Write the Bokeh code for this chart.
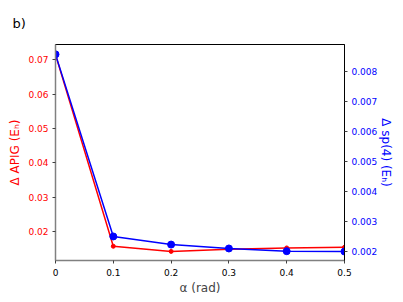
from bokeh.plotting import figure
from bokeh.models import Range1d, LinearAxis, FixedTicker, Title, Spacer
from bokeh.layouts import row
from bokeh.embed import file_html
from bokeh.resources import INLINE

alpha = [0.0, 0.1, 0.2, 0.3, 0.4, 0.5]
apig = [0.0715, 0.0157, 0.0142, 0.0148, 0.0152, 0.0154]
sp4 = [0.00856, 0.00250, 0.00223, 0.00210, 0.00201, 0.00200]
x_ticks = [0.0, 0.1, 0.2, 0.3, 0.4, 0.5]
left_ticks = [0.02, 0.03, 0.04, 0.05, 0.06, 0.07]
right_ticks = [0.002, 0.003, 0.004, 0.005, 0.006, 0.007, 0.008]

RED = "#ff0000"
BLUE = "#0000ff"
FONT = "DejaVu Sans"
TICK_FS = "9px"

p = figure(frame_width=289, frame_height=216, output_backend="svg", toolbar_location=None,
           x_range=Range1d(0.0, 0.5), y_range=Range1d(0.01155, 0.07446),
           min_border_left=0, min_border_right=0, min_border_top=44, min_border_bottom=30)
p.extra_y_ranges = {"right": Range1d(0.0017, 0.008888)}
p.grid.visible = False
p.outline_line_color = "black"
p.outline_line_width = 1
p.background_fill_color = "white"
p.border_fill_color = "white"

# bottom axis
xa = p.xaxis[0]
xa.ticker = FixedTicker(ticks=x_ticks)
xa.minor_tick_line_color = None
xa.axis_line_color = "#808080"
xa.axis_line_width = 1.5
xa.major_tick_line_color = "#404040"
xa.major_tick_out = 3
xa.major_tick_in = 0
xa.major_label_standoff = 5
xa.major_label_text_font = FONT
xa.major_label_text_font_size = TICK_FS
xa.major_label_text_color = "black"
xa.axis_label = "α (rad)"
xa.axis_label_text_font = FONT
xa.axis_label_text_font_style = "normal"
xa.axis_label_text_font_size = "12px"
xa.axis_label_standoff = 2

# left axis
ya = p.yaxis[0]
ya.ticker = FixedTicker(ticks=left_ticks)
ya.minor_tick_line_color = None
ya.axis_line_color = "#808080"
ya.axis_line_width = 1.5
ya.major_tick_line_color = "#404040"
ya.major_tick_out = 3
ya.major_tick_in = 0
ya.major_label_standoff = 4
ya.major_label_text_font = FONT
ya.major_label_text_font_size = TICK_FS
ya.major_label_text_color = RED
ya.axis_label = "Δ APIG (Eₕ)"
ya.axis_label_text_font = FONT
ya.axis_label_text_font_style = "normal"
ya.axis_label_text_font_size = "12px"
ya.axis_label_text_color = RED
ya.axis_label_standoff = 3

# right axis
ra = LinearAxis(y_range_name="right", ticker=FixedTicker(ticks=right_ticks))
ra.minor_tick_line_color = None
ra.axis_line_color = "black"
ra.axis_line_width = 1
ra.major_tick_line_color = "#404040"
ra.major_tick_out = 3
ra.major_tick_in = 0
ra.major_label_standoff = 4
ra.major_label_text_font = FONT
ra.major_label_text_font_size = TICK_FS
ra.major_label_text_color = BLUE
ra.axis_label = "Δ sp(4) (Eₕ)"
ra.axis_label_text_font = FONT
ra.axis_label_text_font_style = "normal"
ra.axis_label_text_font_size = "12px"
ra.axis_label_text_color = BLUE
ra.axis_label_standoff = -1
p.add_layout(ra, "right")

p.line(alpha, apig, line_color=RED, line_width=1.5)
p.scatter(alpha, apig, size=4, color=RED)
p.line(alpha, sp4, line_color=BLUE, line_width=1.5, y_range_name="right")
p.scatter(alpha, sp4, size=7, color=BLUE, y_range_name="right")

p.add_layout(Title(text="b)", align="left", offset=-43, standoff=27,
                   text_font=FONT, text_font_size="13px", text_font_style="normal",
                   text_color="black"), "above")

layout = row(Spacer(width=5, height=10), p)
open("out.html", "w").write(file_html(layout, INLINE))
